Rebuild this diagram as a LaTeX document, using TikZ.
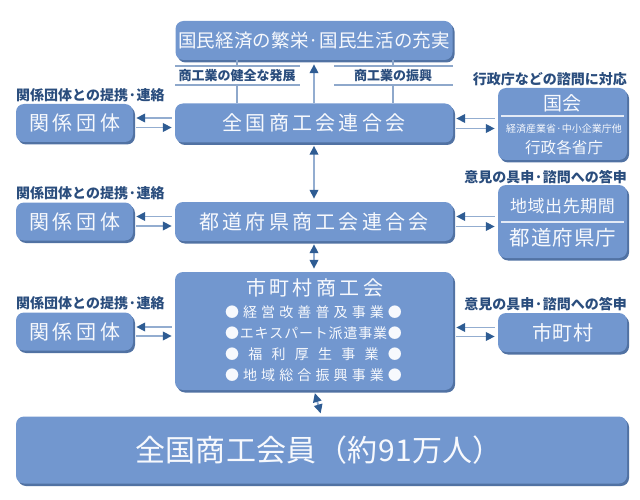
\documentclass[tikz,border=0pt]{standalone}
\usepackage{fontspec}
\setmainfont{Noto Sans CJK JP}
\usetikzlibrary{arrows.meta,shadows,calc}
\definecolor{boxc}{HTML}{7297CF}
\definecolor{shadc}{HTML}{5172A3}
\definecolor{lblc}{HTML}{2A4D7D}
\definecolor{linec}{HTML}{8EA8CB}
\definecolor{headc}{HTML}{2E5C93}
\definecolor{shaftc}{HTML}{93ADD0}
\definecolor{txtc}{HTML}{F7F9FD}
\ExplSyntaxOn
\NewDocumentCommand{\spr}{mm}{\makebox[#1][s]{\tl_map_inline:nn{#2}{##1\hfil}\unskip}}
\ExplSyntaxOff
\newcommand{\fs}[1]{\fontsize{#1}{#1}\selectfont}
\tikzset{
  box/.style={rectangle, rounded corners=8pt, fill=boxc, text=txtc, inner sep=0pt,
    drop shadow={shadow xshift=2pt, shadow yshift=-2.5pt, fill=shadc, opacity=1}},
  intxt/.style={text=txtc, inner sep=0pt},
  lbl/.style={text=lblc, font=\bfseries\fs{14}, inner sep=0pt},
  sublbl/.style={text=lblc, font=\bfseries\fs{13}, inner sep=0pt},
  thin/.style={draw=linec, line width=1.3pt},
  arr/.style={draw=shaftc, line width=1.8pt, shorten <=3pt, shorten >=3pt,
    -{Triangle[length=9pt,width=8.5pt,color=headc,fill=headc]}},
  dbl/.style={draw=shaftc, line width=1.8pt, shorten <=3pt, shorten >=3pt,
    {Triangle[length=9pt,width=8.5pt,color=headc,fill=headc]}-{Triangle[length=9pt,width=8.5pt,color=headc,fill=headc]}}
}
\begin{document}
\begin{tikzpicture}[x=1pt,y=-1pt]
\useasboundingbox (0,0) rectangle (640,500);
% main column
\node[box, minimum width=277pt, minimum height=39pt] (top) at (314,40.5)
  {\fs{18.5}\spr{272pt}{国民経済の繁栄·国民生活の充実}};
\node[box, minimum width=278pt, minimum height=39pt] (zenkoku) at (314,123)
  {\fs{20}\spr{183pt}{全国商工会連合会}};
\node[box, minimum width=278pt, minimum height=39pt] (todofuken) at (314,221.5)
  {\fs{20}\spr{229pt}{都道府県商工会連合会}};
\node[box, minimum width=278pt, minimum height=118pt] (shokokai) at (314,331) {};
\node[intxt, font=\fs{20}] (shtitle) at (314.5,288) {\spr{137pt}{市町村商工会}};
\node[intxt, font=\fs{14}] (b1) at (313.5,312) {\spr{177pt}{●経営改善普及事業●}};
\node[intxt, font=\fs{14}] (b2) at (313.5,333) {\spr{177pt}{●エキスパート派遣事業●}};
\node[intxt, font=\fs{14}] (b3) at (313.5,354) {\spr{177pt}{●福利厚生事業●}};
\node[intxt, font=\fs{14}] (b4) at (313.5,375) {\spr{177pt}{●地域総合振興事業●}};
\node[box, minimum width=611pt, minimum height=67pt] (members) at (321.5,450) {};
\node[intxt, font=\fs{30}] (memtxt) at (319,450) {\spr{368pt}{全国商工会員（約91万人）}};
% left boxes
\node[box, minimum width=117pt, minimum height=38pt] (kankei1) at (74.5,123)
  {\fs{20}\spr{91pt}{関係団体}};
\node[box, minimum width=117pt, minimum height=38pt] (kankei2) at (74.5,221.5)
  {\fs{20}\spr{91pt}{関係団体}};
\node[box, minimum width=117pt, minimum height=38pt] (kankei3) at (74.5,331.5)
  {\fs{20}\spr{91pt}{関係団体}};
% right boxes
\node[box, minimum width=129pt, minimum height=72pt] (kokkai) at (562.5,124) {};
\node[intxt, font=\fs{19}] (kokkaitxt) at (562.5,103) {\spr{38pt}{国会}};
\draw[draw=txtc!85!boxc, line width=1.3pt] (501,116) -- (624,116);
\node[intxt, font=\fs{10}] (keisan) at (564,129) {経済産業省·中小企業庁他};
\node[intxt, font=\fs{15.5}] (gyosei) at (564,148) {\spr{78pt}{行政各省庁}};
\node[box, minimum width=129pt, minimum height=73pt] (chiiki) at (562.5,221.5) {};
\node[intxt, font=\fs{17}] (chiikitxt) at (562.5,206) {\spr{105pt}{地域出先期間}};
\draw[draw=txtc!85!boxc, line width=1.3pt] (501,222) -- (624,222);
\node[intxt, font=\fs{20.5}] (kenchotxt) at (563,238) {\spr{107pt}{都道府県庁}};
\node[box, minimum width=129pt, minimum height=39pt] (shichoson) at (562.5,332.5)
  {\fs{20}\spr{61pt}{市町村}};
% labels
\node[lbl, anchor=west] (l1) at (16,95) {関係団体との提携·連絡};
\node[lbl, anchor=west] (l2) at (16,193) {関係団体との提携·連絡};
\node[lbl, anchor=west] (l3) at (16,303) {関係団体との提携·連絡};
\node[lbl, anchor=east] (r1) at (627,79) {行政庁などの諮問に対応};
\node[lbl, anchor=east] (r2) at (627,177) {意見の具申·諮問への答申};
\node[lbl, anchor=east] (r3) at (627,304) {意見の具申·諮問への答申};
\node[sublbl] (s1) at (237,76) {商工業の健全な発展};
\node[sublbl] (s2) at (393,76) {商工業の振興};
% lines between top and zenkoku
\draw[thin] (175,66) -- (300,66);
\draw[thin] (175,85) -- (300,85);
\draw[thin] (334,66) -- (453,66);
\draw[thin] (334,85) -- (453,85);
\draw[thin] (top.south -| s1) -- (237,66);
\draw[thin] (237,85) -- (zenkoku.north -| s1);
\draw[thin] (top.south -| s2) -- (393,66);
\draw[thin] (393,85) -- (zenkoku.north -| s2);
% vertical arrows
\draw[arr, shorten <=0pt, shorten >=4pt] (zenkoku.north) -- (top.south);
\draw[dbl] (zenkoku.south) -- (todofuken.north);
\draw[dbl] (todofuken.south) -- (shokokai.north);
\draw[dbl] (shokokai.south) -- (members.north);
% horizontal arrows left
\draw[arr] ([yshift=5pt]zenkoku.west) -- ([yshift=5pt]zenkoku.west -| kankei1.east);
\draw[arr] ([yshift=-4.5pt]zenkoku.west -| kankei1.east) -- ([yshift=-4.5pt]zenkoku.west);
\draw[arr] ([yshift=5pt]todofuken.west) -- ([yshift=5pt]todofuken.west -| kankei2.east);
\draw[arr] ([yshift=-4.5pt]todofuken.west -| kankei2.east) -- ([yshift=-4.5pt]todofuken.west);
\draw[arr] ([yshift=4.5pt]kankei3.east -| shokokai.west) -- ([yshift=4.5pt]kankei3.east);
\draw[arr] ([yshift=-4.5pt]kankei3.east) -- ([yshift=-4.5pt]kankei3.east -| shokokai.west);
% horizontal arrows right
\draw[arr] ([yshift=5.5pt]kokkai.west) -- ([yshift=5.5pt]kokkai.west -| zenkoku.east);
\draw[arr] ([yshift=-4.5pt]kokkai.west -| zenkoku.east) -- ([yshift=-4.5pt]kokkai.west);
\draw[arr] ([yshift=5pt]chiiki.west) -- ([yshift=5pt]chiiki.west -| todofuken.east);
\draw[arr] ([yshift=-5pt]chiiki.west -| todofuken.east) -- ([yshift=-5pt]chiiki.west);
\draw[arr] ([yshift=5pt]shichoson.west) -- ([yshift=5pt]shichoson.west -| shokokai.east);
\draw[arr] ([yshift=-4pt]shichoson.west -| shokokai.east) -- ([yshift=-4pt]shichoson.west);
\end{tikzpicture}
\end{document}
